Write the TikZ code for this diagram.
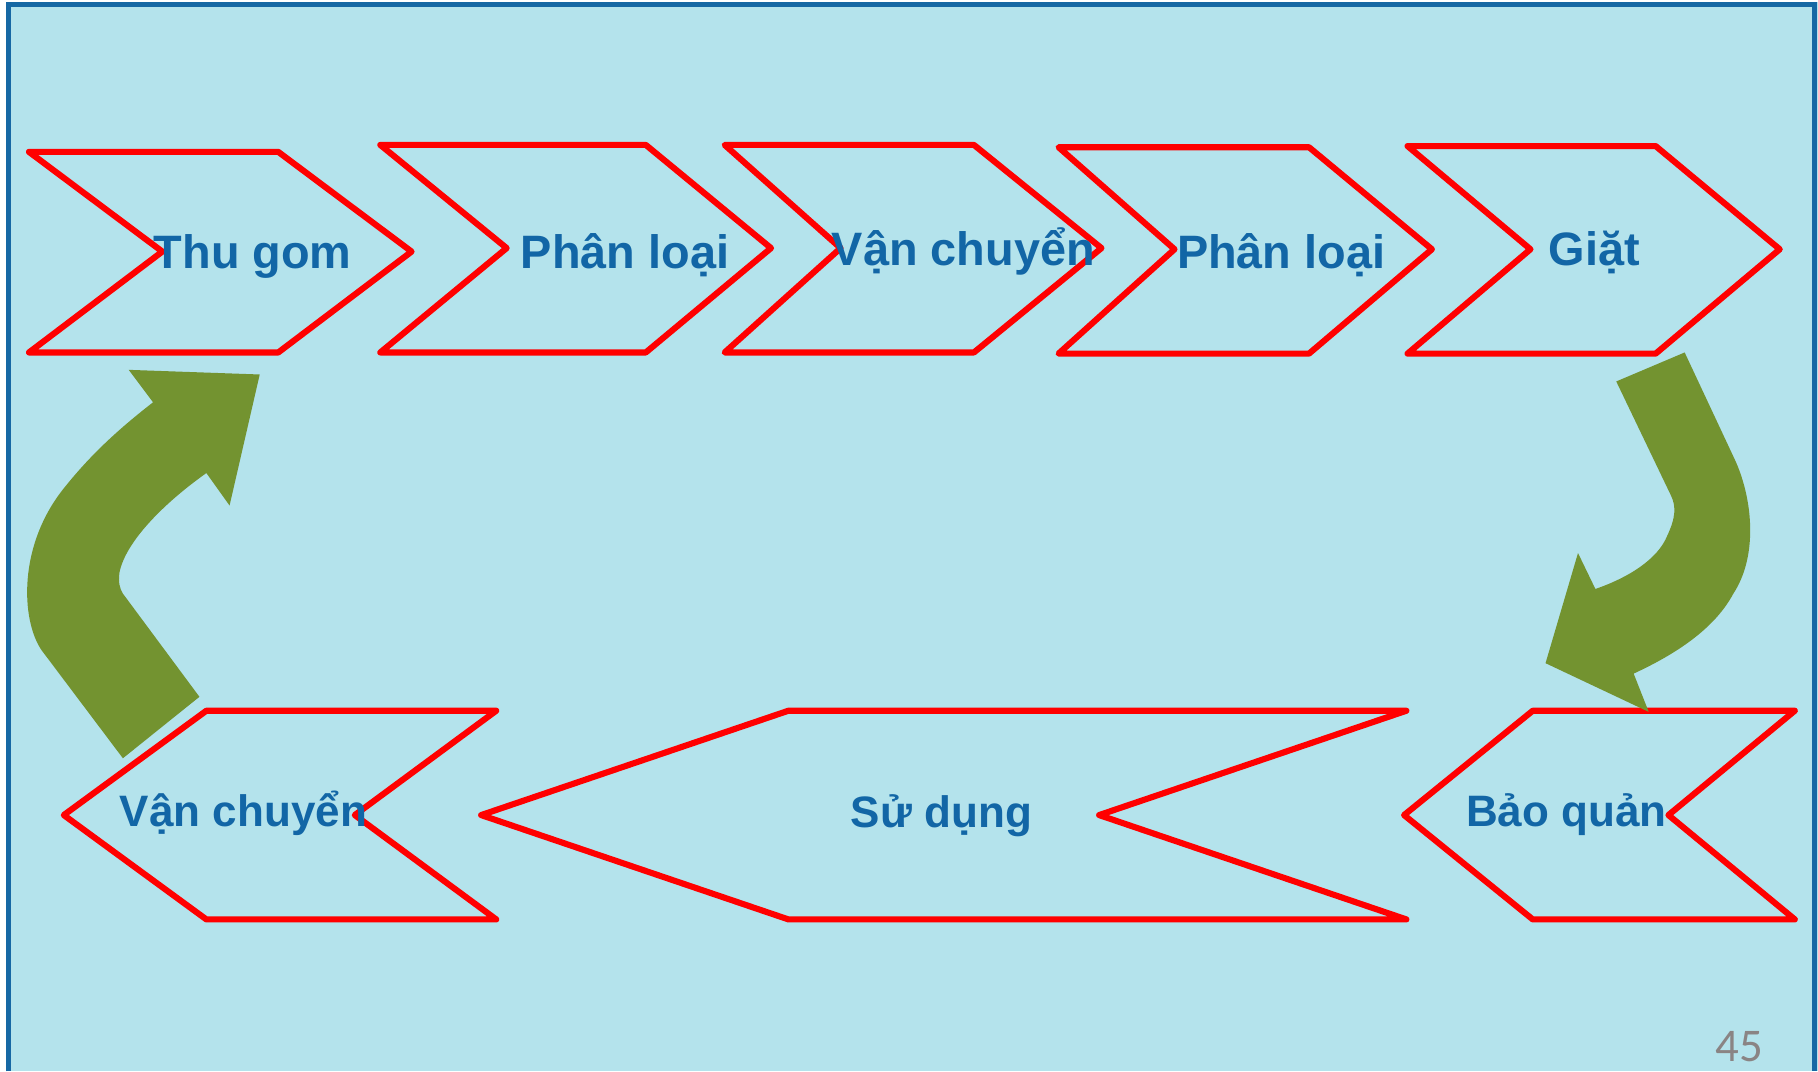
\documentclass[tikz,border=0pt]{standalone}
\usepackage{fontspec}
\setmainfont{Liberation Sans}
\newfontfamily\numfont{Carlito}
\usetikzlibrary{positioning}
\definecolor{drop}{RGB}{180,227,236}
\definecolor{frame}{RGB}{22,104,164}
\definecolor{stepred}{RGB}{255,0,0}
\definecolor{leaf}{RGB}{115,147,48}
\definecolor{ink}{RGB}{18,102,166}
\definecolor{pagegray}{RGB}{138,132,132}
\tikzset{
    chev/.style={draw=stepred, line width=1.5pt, line join=round},
    toplbl/.style={text=ink, font=\fontsize{11.5}{14}\selectfont\bfseries, inner sep=0pt, anchor=base},
    botlbl/.style={text=ink, font=\fontsize{10.8}{13}\selectfont\bfseries, inner sep=0pt, anchor=base},
    turn/.style={fill=leaf, draw=none}
}

\begin{document}
\begin{tikzpicture}[x=0.1mm, y=-0.1mm]
    \useasboundingbox (0,0) rectangle (1568,924);
    \fill[white] (0,0) rectangle (1568,924);
    \fill[drop] (5,2) rectangle (1568,924);
    \draw[frame, line width=0.45mm] (7,924) -- (7,4) -- (1565,4) -- (1565,924);

    % top row
    \draw[chev] (25,131) -- (240,131) -- (355,217) -- (240,304) -- (25,304) -- (140,217) -- cycle;
    \draw[chev] (328,125) -- (557,125) -- (665,214) -- (557,304) -- (328,304) -- (437,214) -- cycle;
    \draw[chev] (625,125) -- (840,125) -- (950,214) -- (840,304) -- (625,304) -- (725,214) -- cycle;
    \draw[chev] (913,127) -- (1129,127) -- (1235,215) -- (1129,305) -- (913,305) -- (1013,215) -- cycle;
    \draw[chev] (1214,126) -- (1428,126) -- (1535,215) -- (1428,305) -- (1214,305) -- (1320,215) -- cycle;

    % bottom row
    \draw[chev] (178,613) -- (428,613) -- (306,703) -- (428,793) -- (178,793) -- (55,703) -- cycle;
    \draw[chev] (680,613) -- (1213,613) -- (948,703) -- (1213,793) -- (680,793) -- (415,703) -- cycle;
    \draw[chev] (1322,613) -- (1548,613) -- (1439,703) -- (1548,793) -- (1322,793) -- (1211,703) -- cycle;

    \node[toplbl] (collect) at (218,232) {Thu gom};
    \node[toplbl] (sortA) at (539,232) {Phân loại};
    \node[toplbl] (haulA) at (831,229) {Vận chuyển};
    \node[toplbl] (sortB) at (1105,232) {Phân loại};
    \node[toplbl] (wash) at (1375,229) {Giặt};
    \node[botlbl] (haulB) at (210,713) {Vận chuyển};
    \node[botlbl] (use) at (812,714) {Sử dụng};
    \node[botlbl] (store) at (1351,713) {Bảo quản};

    % green turn arrows
    \fill[turn] (106,654) -- (36,561) .. controls (18,535) and (15,470) .. (56,420)
        .. controls (80,390) and (105,368) .. (132,347) -- (111,319) -- (224,323) -- (198,436)
        -- (178,408) .. controls (140,435) and (108,468) .. (103,494)
        .. controls (102,502) and (103,507) .. (106,512) -- (172,601) -- cycle;
    \fill[turn] (1394,329) -- (1453,304) -- (1497,398) .. controls (1512,432) and (1516,480) .. (1495,512)
        .. controls (1480,540) and (1450,562) .. (1409,581) -- (1422,614) -- (1333,572) -- (1361,477)
        -- (1376,508) .. controls (1405,498) and (1430,482) .. (1438,462)
        .. controls (1445,447) and (1446,437) .. (1441,427) -- cycle;

    \node[text=pagegray, font=\numfont\fontsize{11.5}{14}\selectfont] (pageno) at (1500,903) {45};
\end{tikzpicture}
\end{document}
